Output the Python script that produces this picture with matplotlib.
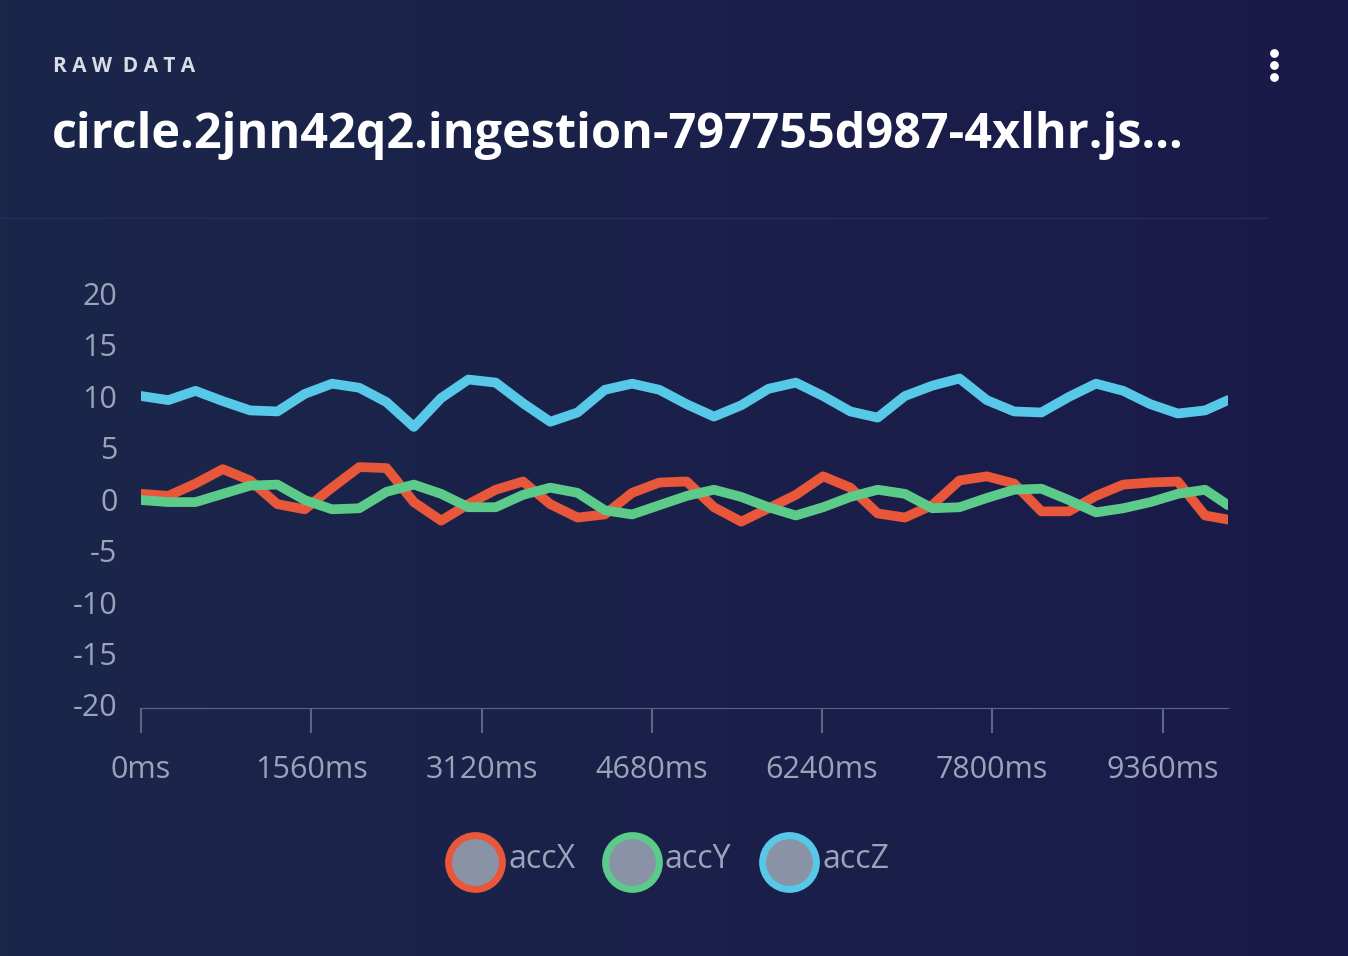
import numpy as np
import matplotlib
matplotlib.use("Agg")
import matplotlib.pyplot as plt
from matplotlib.colors import LinearSegmentedColormap

t_ms = [0,250,500,750,1000,1250,1500,1750,2000,2250,2500,2750,3000,3250,3500,3750,4000,4250,4500,4750,
        5000,5250,5500,5750,6000,6250,6500,6750,7000,7250,7500,7750,8000,8250,8500,8750,9000,9250,9500,9750,9960]
accX = [0.5,0.3,1.5,2.9,1.8,-0.5,-1.0,1.1,3.1,3.0,-0.3,-2.1,-0.5,0.9,1.7,-0.5,-1.8,-1.5,0.6,1.6,
        1.7,-0.8,-2.2,-0.9,0.4,2.2,1.1,-1.4,-1.8,-0.6,1.8,2.2,1.5,-1.2,-1.2,0.3,1.4,1.6,1.7,-1.6,-2.0]
accY = [-0.1,-0.3,-0.3,0.5,1.3,1.4,-0.1,-1.0,-0.9,0.7,1.4,0.5,-0.8,-0.8,0.4,1.1,0.6,-1.1,-1.5,-0.6,
        0.3,0.9,0.2,-0.8,-1.6,-0.8,0.2,0.9,0.5,-0.9,-0.8,0.1,0.9,1.0,-0.1,-1.3,-0.9,-0.3,0.5,0.9,-0.6]
accZ = [10.0,9.6,10.5,9.5,8.6,8.5,10.2,11.2,10.8,9.4,7.0,9.8,11.6,11.3,9.3,7.5,8.4,10.6,11.2,10.6,
        9.2,8.0,9.1,10.7,11.3,10.0,8.5,7.9,10.0,11.0,11.7,9.6,8.5,8.4,9.9,11.2,10.5,9.2,8.3,8.6,9.6]
xticks = [0,1560,3120,4680,6240,7800,9360]
yticks = [20,15,10,5,0,-5,-10,-15,-20]
series = [("accX", accX, "#e8573a"), ("accY", accY, "#5ccb8a"), ("accZ", accZ, "#57c8e8")]

fig = plt.figure(figsize=(13.48, 9.56), dpi=100)
bg = fig.add_axes([0, 0, 1, 1])
grad = np.linspace(0, 1, 256).reshape(1, -1)
cmap = LinearSegmentedColormap.from_list("bg", ["#1b2749", "#1a1a4a"])
bg.imshow(grad, aspect="auto", cmap=cmap, extent=[0, 1, 0, 1])
bg.set_xlim(0, 1); bg.set_ylim(0, 1); bg.axis("off")
bg.plot([0, 0.94], [1-218/956]*2, color="#222f58", lw=1)

fig.text(53/1348, 1-66/956, "R A W  D A T A", color="#d8dce6", fontsize=15,
         fontweight="bold", va="center", family="Open Sans")
fig.text(52/1348, 1-136/956, "circle.2jnn42q2.ingestion-797755d987-4xlhr.js...", color="white",
         fontsize=35, fontweight="bold", va="center", family="Open Sans")
for yy in (53, 65, 77):
    bg.scatter([1274/1348], [1-yy/956], s=28, color="white", zorder=5)

ax = fig.add_axes([141/1348, 1-705/956, (1228-141)/1348, 412/956])
ax.set_facecolor("none")
for name, vals, c in series:
    ax.plot(t_ms, vals, color=c, lw=7, solid_capstyle="round", solid_joinstyle="round")
ax.set_xlim(0, 9960)
ax.set_ylim(-20, 20)
ax.set_yticks(yticks)
ax.set_yticklabels([str(v) for v in yticks])
ax.set_xticks(xticks)
ax.set_xticklabels([f"{v}ms" for v in xticks])
for s in ["top", "right", "left"]:
    ax.spines[s].set_visible(False)
ax.spines["bottom"].set_color("#5a6682")
ax.spines["bottom"].set_position(("outward", 2))
ax.tick_params(axis="y", length=0, pad=17, labelsize=22, labelcolor="#9aa4b8")
ax.tick_params(axis="x", length=18, color="#5a6682", width=1.5, pad=16, labelsize=22, labelcolor="#9aa4b8")
for lab in ax.get_xticklabels() + ax.get_yticklabels():
    lab.set_family("Open Sans")

lx = [475, 632, 789]
for (name, vals, c), x in zip(series, lx):
    bg.scatter([x/1348], [1-862/956], s=1500, color="#8a93a6", edgecolors=c, linewidths=5, zorder=5)
    fig.text((x+33)/1348, 1-860/956, name, color="#9aa4b8", fontsize=23, va="center", family="Open Sans")

fig.savefig("out.png", dpi=100)
